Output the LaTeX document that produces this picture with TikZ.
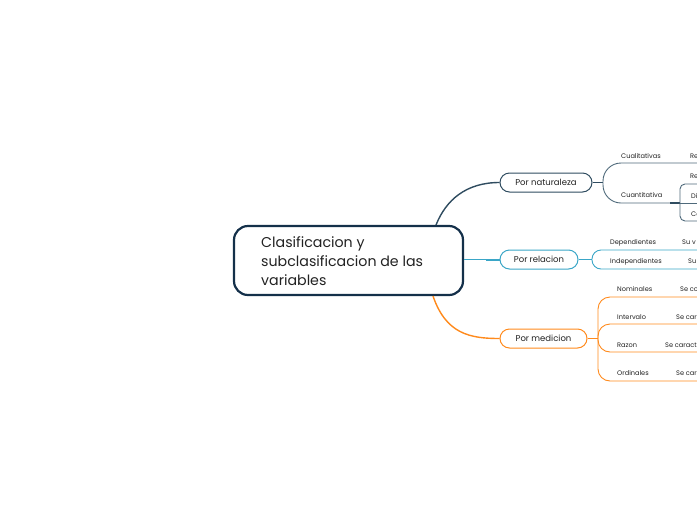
\documentclass[tikz,border=0pt]{standalone}
\usepackage{fontspec}
\setmainfont{Poppins}
\definecolor{navy}{HTML}{14304A}
\definecolor{nat}{HTML}{2F4C60}
\definecolor{natl}{HTML}{4F6A7B}
\definecolor{rel}{HTML}{3AA6C7}
\definecolor{med}{HTML}{FF8A1C}
\definecolor{txt}{HTML}{222222}
\begin{document}
\begin{tikzpicture}[x=1pt,y=-1pt,
  pill/.style={draw,line width=1pt,rounded corners=9.5pt,minimum height=19pt,inner sep=0pt,font=\fontsize{8.5}{10}\selectfont,text=txt,fill=white},
  leaf/.style={anchor=base west,inner sep=0pt,font=\fontsize{6.6}{7}\selectfont,text=txt}]
\useasboundingbox (0,0) rectangle (697,520);
\clip (0,0) rectangle (697,520);
% central
\node[draw=navy,line width=2.2pt,rounded corners=14pt,minimum width=229pt,minimum height=69pt,inner sep=0pt] (root) at (348.5,260.5) {};
\node[anchor=west,align=left,inner sep=0pt,font=\fontsize{14.2}{19}\selectfont,text=txt] (roottxt) at (261,261) {Clasificacion y\\subclasificacion de las\\variables};
% branch nodes
\node[pill,draw=nat,minimum width=92pt] (nat) at (546,182.5) {Por naturaleza};
\node[pill,draw=rel,minimum width=78pt] (rel) at (539,259.5) {Por relacion};
\node[pill,draw=med,minimum width=87pt] (med) at (543.5,338.5) {Por medicion};
% main connectors
\coordinate (rtop) at (436,225);
\coordinate (rbot) at (433,296);
\draw[nat,line width=1.4pt] (rtop) .. controls (446,200) and (466,182.5) .. (nat.west);
\draw[rel,line width=1.4pt] (root.east |- rel.west) -- (rel.west);
\coordinate (relk) at (486,259.5);
\draw[rel,line width=2pt] (relk) -- (rel.west);
\draw[med,line width=1.4pt] (rbot) .. controls (446,334) and (470,338.5) .. (med.west);
% naturaleza children
\coordinate (bn) at (603,182.5);
\draw[nat,line width=1.2pt] (nat.east) -- (bn);
\coordinate (c1) at (697,163);
\coordinate (c2) at (670,203);
\draw[natl,line width=0.9pt,rounded corners=18pt] (bn) |- (c1);
\draw[natl,line width=0.9pt,rounded corners=18pt] (bn) |- (c2);
\node[leaf] (cual) at (621,158.5) {Cualitativas};
\node[leaf] (cuan) at (621,197.5) {Cuantitativa};
\node[leaf] (re1) at (690,158.5) {Re};
\coordinate (bq) at (680,203);
\draw[nat,line width=2pt] (c2) -- (bq);
\coordinate (q1) at (697,184);
\coordinate (q2) at (697,203);
\coordinate (q3) at (697,221);
\draw[natl,line width=0.9pt,rounded corners=5pt] (bq) |- (q1);
\draw[natl,line width=0.9pt] (bq) -- (q2);
\draw[natl,line width=0.9pt,rounded corners=5pt] (bq) |- (q3);
\node[leaf] (re2) at (690,178.5) {Re};
\node[leaf] (di) at (691,198) {Di};
\node[leaf] (co) at (691,216) {Co};
% relacion children
\coordinate (br) at (592,259.5);
\draw[rel,line width=1.2pt] (rel.east) -- (br);
\coordinate (d1) at (697,250);
\coordinate (d2) at (697,269);
\draw[rel,line width=0.9pt,rounded corners=9pt] (br) |- (d1);
\draw[rel,line width=0.9pt,rounded corners=9pt] (br) |- (d2);
\node[leaf] (dep) at (610,244.5) {Dependientes};
\node[leaf] (ind) at (610,263.5) {Independientes};
\node[leaf] (suv) at (682,244.5) {Su v};
\node[leaf] (su) at (688,263.5) {Su};
% medicion children
\coordinate (bm) at (598,338.5);
\draw[med,line width=1.2pt] (med.east) -- (bm);
\foreach \yy/\nm in {297/m1,324/m2,352/m3,381/m4}{
  \coordinate (\nm) at (697,\yy);
  \draw[med,line width=0.9pt,rounded corners=12pt] (bm) |- (\nm);
}
\node[leaf] (nom) at (617,291.5) {Nominales};
\node[leaf] (int) at (617,319.5) {Intervalo};
\node[leaf] (raz) at (617,347.5) {Razon};
\node[leaf] (ord) at (617,375.5) {Ordinales};
\node[leaf] (s1) at (680,291.5) {Se co};
\node[leaf] (s2) at (676,319.5) {Se car};
\node[leaf] (s3) at (665,347.5) {Se caract};
\node[leaf] (s4) at (676,375.5) {Se car};
\end{tikzpicture}
\end{document}
